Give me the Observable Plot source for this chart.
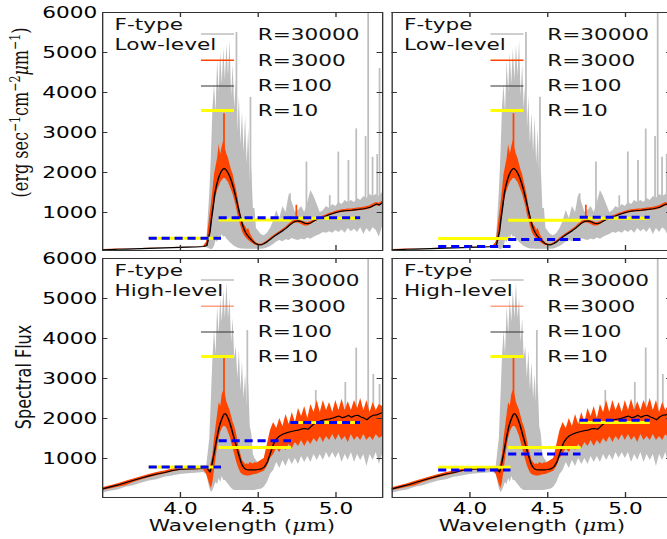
<!DOCTYPE html>
<html><head><meta charset="utf-8">
<script src="https://cdn.jsdelivr.net/npm/d3@7"></script>
<script src="https://cdn.jsdelivr.net/npm/@observablehq/plot@0.6"></script>
<style>
html,body{margin:0;padding:0;background:#fff;}
#wrap{position:relative;width:667px;height:539px;overflow:hidden;background:#fff;}
#fig{position:absolute;left:0;top:0;width:520px;height:539px;transform:scaleX(1.35);transform-origin:0 0;}
.panel{position:absolute;}
.panel svg{display:block;}
</style></head><body>
<div id="wrap"><div id="fig"></div></div>
<script>
// ---------- data ----------
const wl = [3.50,3.55,3.60,3.65,3.70,3.75,3.80,3.85,3.90,3.95,4.00,4.05,4.10,4.15,
  4.17,4.19,
  4.20,4.21,4.22,4.23,4.24,4.25,4.26,4.27,4.28,4.29,4.30,4.31,4.32,4.33,4.34,4.35,4.36,4.37,4.38,4.39,4.40,4.41,4.42,4.43,4.44,4.45,4.46,4.47,4.48,4.49,4.50,
  4.52,4.54,4.56,4.58,4.60,4.62,4.64,4.66,4.68,4.70,4.72,4.74,4.76,4.78,4.80,4.82,4.84,4.86,4.88,4.90,4.92,4.94,4.96,4.98,5.00,5.02,5.04,5.06,5.08,5.10,5.12,5.14,5.16,5.18,5.20,5.22,5.24,5.26,5.28,5.30];

// Low-level spectrum
const lowR100 = [67,73,79,85,91,97,103,109,115,121,127,133,139,148,
  175,520,
  850,1130,1450,1650,1800,1920,2010,2070,2100,2080,2030,1960,1870,1760,1630,1480,1320,1150,980,820,680,570,490,430,380,340,300,265,235,210,195,
  190,225,275,335,395,450,500,550,610,680,740,780,790,770,730,720,745,790,830,860,890,920,950,975,1000,1020,1035,1045,1050,1055,1065,1075,1085,1095,1110,1130,1170,1210,1190,1250];
const lowGrayHi = [67,73,79,85,91,97,103,109,115,121,127,133,139,148,
  250,1500,
  2400,3600,4200,3500,4800,4000,5000,4200,5100,4300,5200,4400,5300,3900,4700,3600,4300,3000,3900,2700,3500,2500,3400,2200,3100,1800,2100,1100,1100,600,550,
  450,420,480,600,780,1050,850,1150,1000,1450,1250,1000,1050,1150,1000,1250,1550,1400,1200,1000,1050,1150,1100,1200,1150,1250,1200,1300,1250,1300,1250,1350,1300,1400,1350,1450,1400,1450,1400,1500];
const lowGrayLo = [60,66,72,78,84,90,96,102,108,114,120,126,132,140,
  120,90,
  70,90,150,300,250,400,350,450,380,400,330,300,250,220,180,150,130,110,100,90,90,85,80,80,80,80,80,80,80,80,80,
  80,90,110,150,200,260,300,270,320,300,350,320,300,340,310,360,330,380,420,450,500,480,520,480,550,500,560,480,600,520,580,500,620,450,600,500,620,550,380,650];
const lowOrangeHi = [72,78,84,90,96,102,108,114,120,126,132,138,144,153,
  260,900,
  1200,1550,1950,2150,2350,2700,2450,2650,2800,2600,2450,2350,2200,2050,1950,1750,1600,1400,1150,950,800,700,650,560,600,480,400,330,280,240,220,
  205,245,295,360,420,475,525,580,640,710,775,810,815,795,760,750,775,815,855,885,915,945,980,1000,1030,1050,1070,1075,1090,1085,1100,1110,1120,1130,1150,1170,1210,1250,1230,1290];
const lowOrangeLo = [62,68,74,80,86,92,98,104,110,116,122,128,134,143,
  150,400,
  650,950,1200,1400,1550,1650,1750,1800,1850,1850,1800,1750,1650,1550,1450,1300,1150,950,800,650,520,440,380,340,300,270,240,210,190,175,170,
  175,205,255,310,370,425,475,525,580,650,700,740,740,700,660,660,700,750,800,830,860,890,920,945,965,985,1000,1010,1010,1020,1030,1040,1050,1055,1070,1090,1130,1170,1150,1210];
const lowSpikeWl = [4.36,4.45,4.705,4.81,4.96,5.015,5.08,5.13,5.19,5.207,5.235,5.265,5.28];
const lowSpikeTop = [5500,3880,1470,2260,1420,2510,2300,3090,2900,6000,2380,2450,4600];
const lowSpikeBase = [1320,340,700,730,950,1020,1050,1070,1100,1115,1170,1210,1190];
const lowOSpikeWl = [4.28,4.745];
const lowOSpikeTop = [3470,1180];
const lowOSpikeBase = [2100,780];

// High-level spectrum
const highR100 = [240,290,340,400,455,510,565,610,650,700,730,740,745,755,
  760,660,
  800,1000,1200,1420,1620,1800,1930,2030,2110,2120,2060,1970,1860,1720,1580,1440,1300,1160,1030,900,810,760,730,720,715,715,715,715,715,720,725,
  740,790,920,1150,1380,1500,1570,1610,1640,1660,1680,1700,1710,1740,1750,1730,1800,1870,1900,1940,1960,1980,1990,2010,2040,2060,2020,2040,2080,2030,2070,2080,2040,2010,1970,2040,2080,2090,2120,2150];
const highGrayHi = [240,290,340,400,455,510,565,610,650,700,730,740,745,755,
  800,1500,
  2500,3500,4200,3600,4800,4100,5000,4400,5200,4500,5400,4500,5000,3900,4500,3500,3800,3000,3700,2700,3400,2500,3100,2300,2900,1800,1600,1100,1000,950,900,
  950,1000,1250,1600,1800,1650,1900,1700,2000,1750,2050,1800,2150,1950,2200,1900,2250,2050,2350,2050,2350,2100,2300,2050,2350,2100,2380,2100,2320,2100,2350,2150,2400,2100,2350,2050,2300,2100,2250,2200];
const highGrayLo = [130,180,210,280,320,380,440,470,530,560,600,620,630,650,
  600,250,
  150,200,300,400,350,500,400,550,450,450,400,350,300,250,220,200,200,200,200,200,200,200,200,200,200,200,200,200,200,210,220,
  230,280,400,600,700,900,750,950,800,1000,850,1000,850,1050,900,1050,900,1100,950,1100,950,1150,1000,1150,1000,1150,900,1100,950,1150,900,1100,950,1100,800,1100,950,1150,850,1100];
const highOrangeHi = [270,320,370,430,490,545,600,650,690,735,770,780,785,790,
  790,760,
  900,1100,1500,1800,2100,2400,2300,2600,2700,2600,2400,2300,2200,2050,1900,1800,1650,1450,1250,1100,950,900,850,870,850,900,880,860,900,880,900,
  950,1000,1350,1700,1900,1750,2000,1800,2100,1850,2150,1900,2250,2050,2300,2000,2350,2150,2450,2150,2450,2200,2400,2150,2450,2200,2480,2200,2420,2200,2450,2250,2500,2200,2450,2150,2400,2200,2350,2300];
const highOrangeLo = [200,240,280,320,400,460,520,570,610,660,700,710,715,720,
  600,350,
  250,400,700,1000,1300,1500,1650,1750,1800,1800,1750,1650,1550,1400,1250,1100,950,820,720,640,600,580,570,560,560,570,580,590,600,600,620,
  650,680,800,1000,1100,1250,1150,1300,1200,1350,1250,1400,1300,1450,1300,1450,1350,1500,1400,1550,1400,1550,1450,1600,1450,1600,1450,1550,1400,1600,1450,1550,1450,1600,1450,1550,1450,1600,1500,1550];
const highSpikeWl = [4.43,4.87,5.06,5.13,5.207,5.24,5.28];
const highSpikeTop = [4200,2700,2900,3760,6000,3100,2850];
const highSpikeBase = [720,1880,2040,2080,1980,2080,2120];
const highOSpikeWl = [4.28];
const highOSpikeTop = [3500];
const highOSpikeBase = [2110];

// R=10 bins and binned values (yellow solid) plus blue dashed
const binStart = [3.80,4.25,4.71];
const binEnd = [4.265,4.715,5.16];
const tlYellow = [355,815,858], tlBlue = [355,868,868];
const trYellow = [350,808,858], trBlue = [150,325,883];
const blYellow = [790,1277,1898], blBlue = [790,1443,1898];
const brYellow = [779,1277,1898], brBlue = [713,1111,1957];

const xTicks = [4.0,4.5,5.0];
const yTicks = [1000,2000,3000,4000,5000,6000];
const legendLabels = ["R=30000","R=3000","R=100","R=10"];
const levelNames = ["Low-level","High-level"];

// ---------- drawing ----------
const S = 1.35;
const GRAY = "#bebebe", ORANGE = "#ff4500", YELLOW = "#ffff00", BLUE = "#0000ff";
const fig = d3.select("#fig");

function rowsFor(level) {
  const L = level === 0
    ? {r: lowR100, gh: lowGrayHi, gl: lowGrayLo, oh: lowOrangeHi, ol: lowOrangeLo}
    : {r: highR100, gh: highGrayHi, gl: highGrayLo, oh: highOrangeHi, ol: highOrangeLo};
  return wl.map((w, i) => ({wl: w, r100: L.r[i], gHi: L.gh[i], gLo: L.gl[i], oHi: L.oh[i], oLo: L.ol[i]}));
}
function spikesFor(xs, tops, bases) { return xs.map((x, i) => ({wl: x, top: tops[i], base: bases[i]})); }
function segs(vals) { return vals.map((v, i) => ({x1: binStart[i], x2: binEnd[i], y: v})); }

const panels = [
  {col: 0, row: 0, yellow: tlYellow, blue: tlBlue},
  {col: 1, row: 0, yellow: trYellow, blue: trBlue},
  {col: 0, row: 1, yellow: blYellow, blue: blBlue},
  {col: 1, row: 1, yellow: brYellow, blue: brBlue}
];

panels.forEach(p => {
  const c = p.col, r = p.row;
  const frameLeft = c === 0 ? 102 / S : 392 / S;
  const frameW = 280 / S;
  const left = c === 0 ? 0 : frameLeft - 4;
  const mL = frameLeft - left, mR = 4;
  const W = mL + frameW + mR;
  const top = r === 0 ? 0 : 250;
  const mT = r === 0 ? 12 : 8;
  const H = r === 0 ? 254 : 289;
  const mB = r === 0 ? 4 : 42;
  const frameH = H - mT - mB;
  const rows = rowsFor(r);
  const sp = r === 0 ? spikesFor(lowSpikeWl, lowSpikeTop, lowSpikeBase) : spikesFor(highSpikeWl, highSpikeTop, highSpikeBase);
  const osp = r === 0 ? spikesFor(lowOSpikeWl, lowOSpikeTop, lowOSpikeBase) : spikesFor(highOSpikeWl, highOSpikeTop, highOSpikeBase);

  const xOpt = r === 1
    ? {domain: [3.5, 5.3], ticks: xTicks, tickSize: 0, tickPadding: 5, tickFormat: d3.format(".1f"), label: null}
    : {domain: [3.5, 5.3], axis: null};
  const yOpt = c === 0
    ? {domain: r === 0 ? [50, 6000] : [25, 6000], ticks: yTicks, tickSize: 0, tickPadding: 4, tickFormat: d => String(d), label: null}
    : {domain: r === 0 ? [50, 6000] : [25, 6000], axis: null};

  const chart = Plot.plot({
    width: W, height: H, marginLeft: mL, marginRight: mR, marginTop: mT, marginBottom: mB,
    style: {fontFamily: "DejaVu Sans", fontSize: "16px", background: "transparent", maxWidth: "none", color: "#000", overflow: "visible"},
    x: xOpt, y: yOpt,
    marks: [
      Plot.areaY(rows, {x: "wl", y1: "gLo", y2: "gHi", fill: GRAY, clip: true}),
      Plot.ruleX(sp, {x: "wl", y1: "base", y2: "top", stroke: GRAY, strokeWidth: 1.3, clip: true}),
      Plot.areaY(rows, {x: "wl", y1: "oLo", y2: "oHi", fill: ORANGE, clip: true}),
      Plot.ruleX(osp, {x: "wl", y1: "base", y2: "top", stroke: ORANGE, strokeWidth: 1.3, clip: true}),
      Plot.line(rows, {x: "wl", y: "r100", stroke: "#000", strokeWidth: 1.1, clip: true}),
      Plot.ruleY(segs(p.yellow), {x1: "x1", x2: "x2", y: "y", stroke: YELLOW, strokeWidth: 3}),
      Plot.ruleY(segs(p.blue), {x1: "x1", x2: "x2", y: "y", stroke: BLUE, strokeWidth: 3, strokeDasharray: "6,3.6"}),
      Plot.frame({stroke: "#333", strokeWidth: 1}),
      Plot.ruleY(yTicks, {y: d => d, insetRight: frameW - 4, stroke: "#333"}),
      Plot.ruleY(yTicks, {y: d => d, insetLeft: frameW - 4, stroke: "#333"}),
      Plot.ruleX(xTicks, {x: d => d, insetBottom: frameH - 5, stroke: "#333"}),
      Plot.ruleX(xTicks, {x: d => d, insetTop: frameH - 5, stroke: "#333"})
    ]
  });

  const div = fig.append("div").attr("class", "panel")
    .style("left", left + "px").style("top", top + "px")
    .style("width", W + "px").style("height", H + "px");
  div.node().appendChild(chart);

  // legend overlay
  const ov = div.append("svg").attr("width", W).attr("height", H)
    .style("position", "absolute").style("left", "0px").style("top", "0px").style("overflow", "visible")
    .attr("font-family", "DejaVu Sans").attr("font-size", 16).attr("fill", "#111");
  const fx = mL, fy = mT;
  ov.append("text").attr("x", fx + 9.3).attr("y", fy + 18.3).text("F-type");
  ov.append("text").attr("x", fx + 9.3).attr("y", fy + 38.3).text(levelNames[r]);
  const swY = [22, 48.3, 74, 98.5];
  const swC = [GRAY, ORANGE, "#333", YELLOW];
  const swW = [1.5, 1.5, 1, 3];
  const swO = [1, r === 0 ? 1 : 0.5, 1, 1];
  const txY = [28, 53.8, 79, 104];
  legendLabels.forEach((lab, i) => {
    ov.append("line").attr("x1", fx + 73.3).attr("x2", fx + 97.8)
      .attr("y1", fy + swY[i]).attr("y2", fy + swY[i])
      .attr("stroke", swC[i]).attr("stroke-width", swW[i]).attr("stroke-opacity", swO[i]);
    ov.append("text").attr("x", fx + 115.3).attr("y", fy + txY[i]).text(lab);
  });
});

// axis titles
const ax = fig.append("svg").attr("width", 520).attr("height", 539)
  .style("position", "absolute").style("left", "0px").style("top", "0px").style("pointer-events", "none");
const yl = ax.append("text").attr("transform", `translate(${20 / S},112.5) rotate(-90)`)
  .attr("text-anchor", "middle").attr("dy", "0.35em")
  .attr("font-family", "DejaVu Serif").attr("font-size", 16).attr("fill", "#111");
yl.append("tspan").text("(erg sec");
yl.append("tspan").attr("font-size", 11).attr("baseline-shift", "super").text("−1");
yl.append("tspan").text("cm");
yl.append("tspan").attr("font-size", 11).attr("baseline-shift", "super").text("−2");
yl.append("tspan").attr("font-style", "italic").text("μ");
yl.append("tspan").text("m");
yl.append("tspan").attr("font-size", 11).attr("baseline-shift", "super").text("−1");
yl.append("tspan").text(")");

ax.append("text").attr("transform", `translate(${23 / S},377) rotate(-90)`)
  .attr("text-anchor", "middle").attr("dy", "0.35em")
  .attr("font-family", "DejaVu Sans").attr("font-size", 16).attr("fill", "#111")
  .text("Spectral Flux");

[ (102 + 382) / 2 / S, (392 + 672) / 2 / S ].forEach(cx => {
  const t = ax.append("text").attr("x", cx).attr("y", 531.5).attr("text-anchor", "middle")
    .attr("font-family", "DejaVu Sans").attr("font-size", 16).attr("fill", "#111");
  t.append("tspan").text("Wavelength (");
  t.append("tspan").attr("font-family", "DejaVu Serif").attr("font-style", "italic").text("μ");
  t.append("tspan").attr("font-family", "DejaVu Serif").text("m");
  t.append("tspan").text(")");
});
</script></body></html>
